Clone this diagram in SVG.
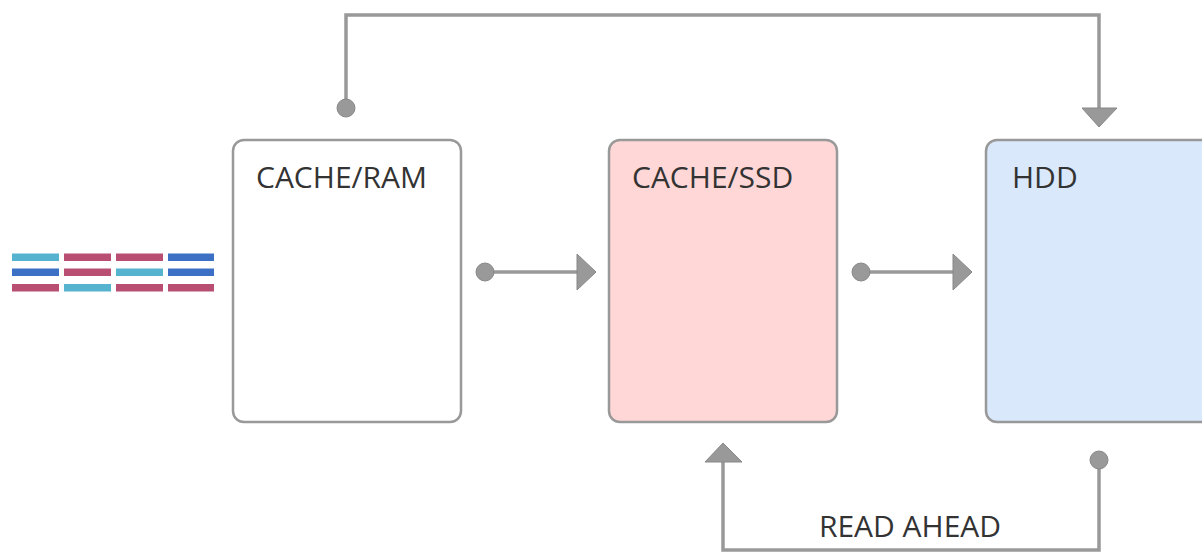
<svg xmlns="http://www.w3.org/2000/svg" width="1202" height="553" viewBox="0 0 1202 553">
<defs>
<style>
.box{stroke:#999;stroke-width:2.5}
.lbl{font-family:"Open Sans",sans-serif;font-size:30px;fill:#333}
.con{fill:none;stroke:#999;stroke-width:3.5}
.dot{fill:#999;stroke:#888;stroke-width:1}
.head{fill:#999;stroke:#888;stroke-width:1}
.c{fill:#55b3d0}.p{fill:#b84f73}.b{fill:#3b70c4}
</style>
</defs>
<rect width="1202" height="553" fill="#fff"/>
<g id="queue">
<rect class="c" x="12" y="253.5" width="47" height="7.5"/>
<rect class="p" x="64" y="253.5" width="47" height="7.5"/>
<rect class="p" x="116" y="253.5" width="47" height="7.5"/>
<rect class="b" x="168" y="253.5" width="46" height="7.5"/>
<rect class="b" x="12" y="268.5" width="47" height="7.5"/>
<rect class="p" x="64" y="268.5" width="47" height="7.5"/>
<rect class="c" x="116" y="268.5" width="47" height="7.5"/>
<rect class="b" x="168" y="268.5" width="46" height="7.5"/>
<rect class="p" x="12" y="284" width="47" height="7.5"/>
<rect class="c" x="64" y="284" width="47" height="7.5"/>
<rect class="p" x="116" y="284" width="47" height="7.5"/>
<rect class="p" x="168" y="284" width="46" height="7.5"/>
</g>
<g id="ram">
<rect class="box" x="233" y="140" width="228" height="282" rx="11" fill="#fff"/>
<text class="lbl" x="256" y="188">CACHE/RAM</text>
</g>
<g id="ssd">
<rect class="box" x="609" y="140" width="228" height="282" rx="11" fill="#ffd7d7"/>
<text class="lbl" x="632" y="188">CACHE/SSD</text>
</g>
<g id="hdd">
<rect class="box" x="986" y="140" width="240" height="282" rx="11" fill="#dae8fc"/>
<text class="lbl" x="1012" y="188">HDD</text>
</g>
<g id="connectors">
<path class="con" d="M485 272 H580"/>
<circle class="dot" cx="485" cy="272" r="9"/>
<polygon class="head" points="577,254 596,272 577,290"/>
<path class="con" d="M861 272 H956"/>
<circle class="dot" cx="861" cy="272" r="9"/>
<polygon class="head" points="953,254 972,272 953,290"/>
<path class="con" d="M346 108 V15 H1099 V110"/>
<circle class="dot" cx="346" cy="108" r="9"/>
<polygon class="head" points="1082,108 1117,108 1099,127"/>
<path class="con" d="M1099 460 V550 H723 V460"/>
<circle class="dot" cx="1099" cy="460" r="9"/>
<polygon class="head" points="705,462 742,462 723,443"/>
<text class="lbl" x="910" y="537" text-anchor="middle">READ AHEAD</text>
</g>
</svg>
